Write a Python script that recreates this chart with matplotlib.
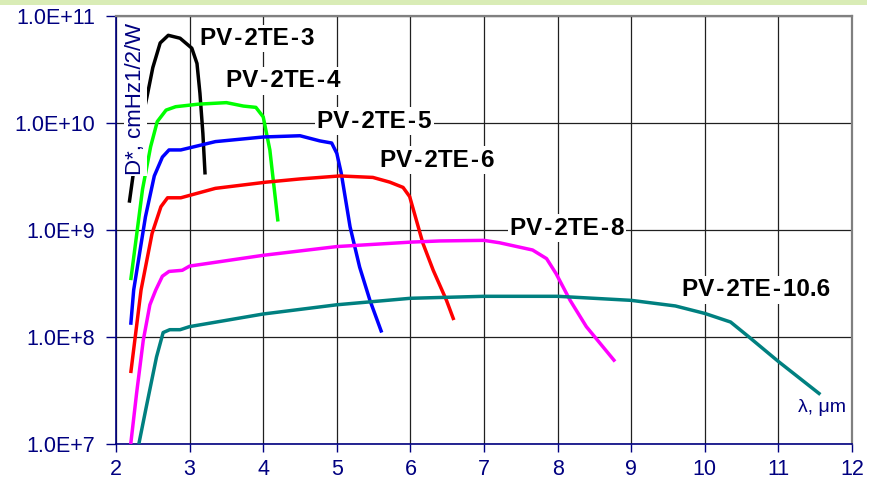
import numpy as np
import matplotlib
matplotlib.use('Agg')
import matplotlib.pyplot as plt
from matplotlib.patches import Rectangle

plt.rcParams['font.family'] = ['Liberation Sans', 'DejaVu Sans']

# wavelength (um) and detectivity D* (cmHz1/2/W)
te3_x = [2.18, 2.25, 2.33, 2.42, 2.50, 2.60, 2.71, 2.87, 3.03, 3.10, 3.14, 3.18, 3.21]
te3_y = [1.8e9, 4.0e9, 9.0e9, 1.75e10, 3.3e10, 5.6e10, 6.6e10, 6.2e10, 5.0e10, 3.6e10, 1.9e10, 8.0e9, 3.3e9]

te4_x = [2.20, 2.28, 2.36, 2.47, 2.56, 2.68, 2.81, 3.12, 3.50, 3.73, 3.90, 4.00, 4.09, 4.20]
te4_y = [3.4e8, 9.0e8, 2.4e9, 6.0e9, 1.03e10, 1.32e10, 1.42e10, 1.5e10, 1.55e10, 1.44e10, 1.4e10, 1.14e10, 5.6e9, 1.2e9]

te5_x = [2.20, 2.24, 2.40, 2.52, 2.63, 2.72, 2.88, 3.35, 4.00, 4.50, 4.77, 4.93, 5.00, 5.06, 5.18, 5.31, 5.45, 5.61]
te5_y = [1.3e8, 2.75e8, 1.33e9, 3.2e9, 4.8e9, 5.6e9, 5.6e9, 6.7e9, 7.4e9, 7.6e9, 6.8e9, 6.5e9, 5.2e9, 3.4e9, 1.07e9, 4.5e8, 2.2e8, 1.1e8]

te6_x = [2.20, 2.34, 2.49, 2.61, 2.70, 2.88, 3.35, 4.04, 4.50, 5.04, 5.49, 5.72, 5.90, 5.99, 6.08, 6.17, 6.31, 6.49, 6.59]
te6_y = [4.6e7, 2.75e8, 9.3e8, 1.65e9, 2.0e9, 2.0e9, 2.45e9, 2.8e9, 3.0e9, 3.2e9, 3.1e9, 2.8e9, 2.5e9, 2.05e9, 1.24e9, 7.5e8, 4.2e8, 2.2e8, 1.44e8]

te8_x = [2.20, 2.28, 2.37, 2.46, 2.54, 2.63, 2.72, 2.90, 3.00, 4.00, 5.00, 6.00, 6.40, 7.00, 7.21, 7.66, 7.85, 7.98, 8.17, 8.39, 8.78]
te8_y = [1.0e7, 3.0e7, 9.3e7, 2.0e8, 2.75e8, 3.7e8, 4.1e8, 4.2e8, 4.6e8, 5.8e8, 7.0e8, 7.7e8, 7.9e8, 8.0e8, 7.6e8, 6.5e8, 5.4e8, 3.9e8, 2.2e8, 1.25e8, 5.9e7]

te106_x = [2.31, 2.41, 2.55, 2.64, 2.73, 2.87, 3.00, 4.00, 5.00, 6.00, 7.00, 8.00, 9.00, 9.60, 10.00, 10.35, 10.60, 11.00, 11.57]
te106_y = [1.0e7, 2.2e7, 6.5e7, 1.1e8, 1.17e8, 1.17e8, 1.25e8, 1.64e8, 2.0e8, 2.3e8, 2.4e8, 2.4e8, 2.2e8, 1.95e8, 1.66e8, 1.38e8, 1.0e8, 5.9e7, 2.9e7]

series = [
    (te3_x, te3_y, 'black'),
    (te4_x, te4_y, '#00ff00'),
    (te5_x, te5_y, '#0000ff'),
    (te6_x, te6_y, '#ff0000'),
    (te8_x, te8_y, '#ff00ff'),
    (te106_x, te106_y, '#008080'),
]

# curve labels: text, left edge x, vertical centre y
label_names = ['PV-2TE-3', 'PV-2TE-4', 'PV-2TE-5', 'PV-2TE-6', 'PV-2TE-8', 'PV-2TE-10.6']
label_x = [3.14, 3.49, 4.73, 5.59, 7.35, 9.69]
label_y = [6.2e10, 2.47e10, 1.04e10, 4.5e9, 1.04e9, 2.75e8]

x_ticks = [2, 3, 4, 5, 6, 7, 8, 9, 10, 11, 12]
y_ticks = [1e7, 1e8, 1e9, 1e10, 1e11]
y_tick_labels = ['1.0E+7', '1.0E+8', '1.0E+9', '1.0E+10', '1.0E+11']

navy = '#000080'

fig = plt.figure(figsize=(8.77, 4.88), dpi=100)
fig.patches.append(Rectangle((0, 0.99), 0.989, 0.01, transform=fig.transFigure,
                             facecolor='#d9ecb6', edgecolor='none', zorder=0))
ax = fig.add_axes([0.1323, 0.0902, 0.8392, 0.877])

ax.set_yscale('log')
ax.set_xlim(2, 12)
ax.set_ylim(1e7, 1e11)
ax.set_xticks(x_ticks)
ax.set_yticks(y_ticks)
ax.set_yticklabels(y_tick_labels)
ax.minorticks_off()
ax.grid(True, color='#202020', linewidth=0.9)
ax.set_axisbelow(True)

for xs, ys, c in series:
    ax.plot(xs, ys, color=c, linewidth=2.5, solid_capstyle='butt',
            solid_joinstyle='round', zorder=3)

ax.tick_params(axis='both', colors=navy, labelsize=15.5, direction='out', width=1.0)
ax.tick_params(axis='y', length=7, pad=8)
ax.tick_params(axis='x', length=6, pad=5)
for s in ['left', 'bottom']:
    ax.spines[s].set_color(navy)
    ax.spines[s].set_linewidth(1.2)
for s in ['top', 'right']:
    ax.spines[s].set_color('#808080')
    ax.spines[s].set_linewidth(1.6)

hs = '\u200a'
for name, lx, ly in zip(label_names, label_x, label_y):
    txt = name.replace('-', hs + '-' + hs)
    ax.text(lx, ly, txt, fontsize=17.5, fontweight='bold', color='black',
            ha='left', va='center', zorder=5,
            bbox=dict(facecolor='white', edgecolor='none', pad=1.5))

ax.text(2.265, 8.6e10, 'D*, cmHz1/2/W', rotation=90, fontsize=16, color=navy,
        ha='center', va='top', zorder=5,
        bbox=dict(facecolor='white', edgecolor='none', pad=0.8))

ax.text(11.26, 2.17e7, '\u03bb, \u03bcm', fontsize=14, color=navy,
        ha='left', va='center', zorder=5,
        bbox=dict(facecolor='white', edgecolor='none', pad=1))

fig.savefig('out.png', dpi=100)
